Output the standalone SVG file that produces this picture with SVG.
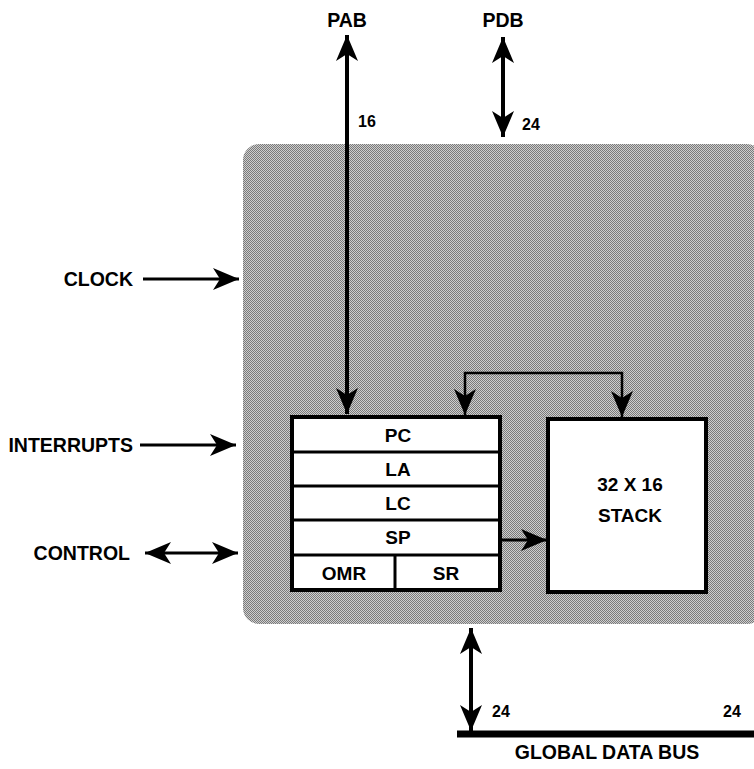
<svg xmlns="http://www.w3.org/2000/svg" width="754" height="769" viewBox="0 0 754 769">
<style>
text{font-family:"Liberation Sans",Arial,Helvetica,sans-serif;font-weight:bold;fill:#000}
.lb{font-size:19.5px}
.sm{font-size:16px}
.rg{font-size:19px;text-anchor:middle}
.ln{stroke:#000;fill:none}
.box{fill:#fff;stroke:#000;stroke-width:4}
</style>
<defs>
<pattern id="ht" width="2" height="2" patternUnits="userSpaceOnUse">
<rect width="2" height="2" fill="#cecece"/>
<rect width="1" height="1" fill="#7a7a7a"/>
<rect x="1" y="1" width="1" height="1" fill="#7a7a7a"/>
</pattern>
<marker id="ahL" viewBox="0 0 26 22" refX="26" refY="11" markerWidth="26" markerHeight="22" markerUnits="userSpaceOnUse" orient="auto-start-reverse">
<path d="M0,0 L26,11 L0,22 L7,11 Z" fill="#000"/>
</marker>
</defs>
<rect width="754" height="769" fill="#fff"/>
<g id="processor">
<rect x="243" y="144" width="520" height="480" rx="16" fill="url(#ht)"/>
</g>
<g id="registers">
<rect class="box" x="292" y="417" width="208" height="173"/>
<line class="ln" stroke-width="3" x1="292" y1="452" x2="500" y2="452"/>
<line class="ln" stroke-width="3" x1="292" y1="486" x2="500" y2="486"/>
<line class="ln" stroke-width="3" x1="292" y1="520" x2="500" y2="520"/>
<line class="ln" stroke-width="3" x1="292" y1="555" x2="500" y2="555"/>
<line class="ln" stroke-width="3" x1="395" y1="555" x2="395" y2="590"/>
<text class="rg" x="398" y="442">PC</text>
<text class="rg" x="398" y="476">LA</text>
<text class="rg" x="398" y="510">LC</text>
<text class="rg" x="398" y="544">SP</text>
<text class="rg" x="344" y="580">OMR</text>
<text class="rg" x="446" y="580">SR</text>
</g>
<g id="stack">
<rect class="box" x="548" y="419" width="158" height="173"/>
<text class="rg" x="630" y="491">32 X 16</text>
<text class="rg" x="630" y="522">STACK</text>
</g>
<g id="connectors">
<line class="ln" stroke-width="4" x1="347" y1="35" x2="347" y2="414" marker-start="url(#ahL)" marker-end="url(#ahL)"/>
<line class="ln" stroke-width="4" x1="503" y1="37" x2="503" y2="137" marker-start="url(#ahL)" marker-end="url(#ahL)"/>
<line class="ln" stroke-width="3" x1="143" y1="279" x2="239" y2="279" marker-end="url(#ahL)"/>
<line class="ln" stroke-width="3" x1="140" y1="445" x2="236" y2="445" marker-end="url(#ahL)"/>
<line class="ln" stroke-width="3" x1="145" y1="553" x2="238" y2="553" marker-start="url(#ahL)" marker-end="url(#ahL)"/>
<polyline class="ln" stroke-width="2.5" points="465,415 465,373 622,373 622,417" marker-start="url(#ahL)" marker-end="url(#ahL)"/>
<line class="ln" stroke-width="3" x1="500" y1="540" x2="547" y2="540" marker-end="url(#ahL)"/>
<line class="ln" stroke-width="4" x1="471" y1="628" x2="471" y2="731" marker-start="url(#ahL)" marker-end="url(#ahL)"/>
<line class="ln" stroke-width="7" x1="457" y1="734" x2="754" y2="734"/>
</g>
<g id="labels">
<text class="lb" x="347" y="27" text-anchor="middle">PAB</text>
<text class="lb" x="503" y="27" text-anchor="middle">PDB</text>
<text class="sm" x="358" y="127">16</text>
<text class="sm" x="522" y="130">24</text>
<text class="lb" x="133" y="286" text-anchor="end">CLOCK</text>
<text class="lb" x="133" y="452" text-anchor="end">INTERRUPTS</text>
<text class="lb" x="130" y="560" text-anchor="end">CONTROL</text>
<text class="sm" x="492" y="717">24</text>
<text class="sm" x="723" y="717">24</text>
<text class="lb" x="607" y="759" text-anchor="middle">GLOBAL DATA BUS</text>
</g>
</svg>
